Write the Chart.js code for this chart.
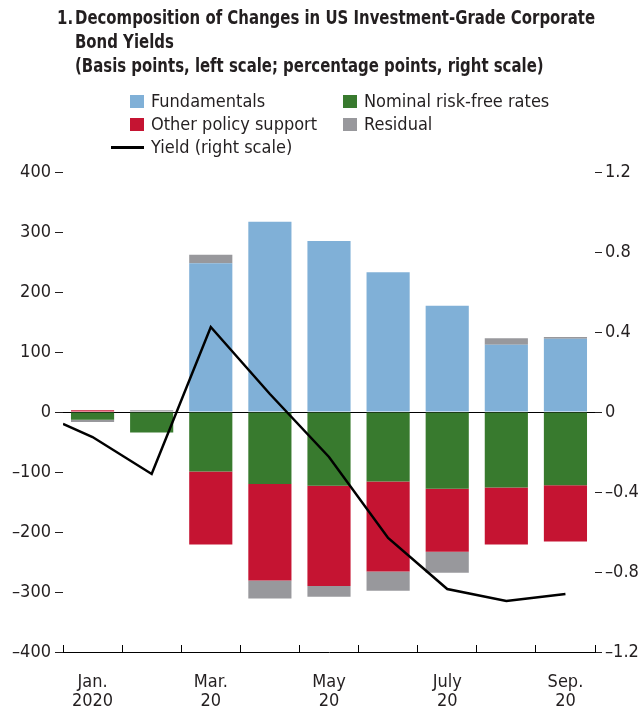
<!DOCTYPE html>
<html>
<head>
    <title>Decomposition of Changes in US IG Corporate Bond Yields</title>
    <script src="https://cdn.jsdelivr.net/npm/chart.js"></script>
    <style>
        body {
            margin: 0;
            background: #fff;
            font-family: "Liberation Sans Narrow", "DejaVu Sans Condensed", "Arial Narrow", sans-serif;
            color: #231f20;
        }
        .page {
            position: relative;
            width: 643px;
            height: 711px;
            overflow: hidden;
        }
        .title-num, .title {
            position: absolute;
            top: 5px;
            font-weight: bold;
            font-size: 19px;
            line-height: 24px;
            white-space: nowrap;
            transform-origin: 0 0;
        }
        .title-num { left: 57px; }
        .title { left: 75px; }
        .title span {
            display: inline-block;
        }
        .legend-item {
            position: absolute;
            font-size: 18px;
            line-height: 20px;
            white-space: nowrap;
        }
        .swatch {
            position: absolute;
            width: 14px;
            height: 13px;
        }
        .yield-key {
            position: absolute;
            left: 111px;
            width: 33px;
            height: 3px;
            background: #000;
        }
        #bondChart {
            position: absolute;
            left: 0;
            top: 0;
        }
    </style>
</head>
<body>
<div class="page">
    <canvas id="bondChart" width="643" height="711"></canvas>

    <div class="title-num" id="titleNum">1.</div>
    <div class="title" id="title">
        <span id="titleLine1">Decomposition of Changes in US Investment-Grade Corporate</span><br>
        <span>Bond Yields</span><br>
        <span>(Basis points, left scale; percentage points, right scale)</span>
    </div>

    <!-- legend, two columns like the original -->
    <div class="swatch" style="left:130px; top:95px; background:#80b0d7;"></div>
    <div class="legend-item" style="left:151px; top:91px;">Fundamentals</div>
    <div class="swatch" style="left:343px; top:95px; background:#387a2e;"></div>
    <div class="legend-item" style="left:364px; top:91px;">Nominal risk-free rates</div>
    <div class="swatch" style="left:130px; top:118px; background:#c51432;"></div>
    <div class="legend-item" style="left:151px; top:114px;">Other policy support</div>
    <div class="swatch" style="left:343px; top:118px; background:#98989c;"></div>
    <div class="legend-item" style="left:364px; top:114px;">Residual</div>
    <div class="yield-key" style="top:146px;"></div>
    <div class="legend-item" style="left:151px; top:137px;">Yield (right scale)</div>
</div>

<script>
    const months = [['Jan.', '2020'], '', ['Mar.', '20'], '', ['May', '20'], '', ['July', '20'], '', ['Sep.', '20']];

    // basis points
    const fundamentals = [0, 0, 248, 317, 285, 233, 177, 112, 122];
    const nominalRates = [-13, -34, -99, -120, -123, -116, -128, -126, -122];
    const otherPolicy = [3, 0, -122, -161, -167, -150, -105, -95, -94];
    const residual = [-3.5, 3, 14, -30, -18, -32, -35, 11, 3];

    // yield, percentage points; first point sits at the start of January
    const yieldPos = [-0.5, 0, 1, 2, 3, 4, 5, 6, 7, 8];
    const yieldValues = [-0.06, -0.125, -0.31, 0.425, 0.09, -0.225, -0.63, -0.885, -0.945, -0.91];

    const leftTicks = { min: -400, max: 400, step: 100 };
    const rightTicks = { min: -1.2, max: 1.2, step: 0.4 };

    // condensed title: squeeze the bold face to the width of the original
    const w = document.getElementById('titleLine1').getBoundingClientRect().width;
    const squeeze = 'scaleX(' + (520 / w) + ')';
    document.getElementById('title').style.transform = squeeze;
    document.getElementById('titleNum').style.transform = squeeze;

    const tickFont = { family: '"Liberation Sans Narrow", "DejaVu Sans Condensed", sans-serif', size: 18, lineHeight: 1.05 };
    const ink = '#231f20';

    function dash(v) {
        return v < 0 ? '\u2013' : '';
    }

    const ctx = document.getElementById('bondChart').getContext('2d');
    new Chart(ctx, {
        type: 'bar',
        data: {
            labels: months,
            datasets: [
                { label: 'Fundamentals', data: fundamentals, backgroundColor: '#80b0d7', order: 1 },
                { label: 'Nominal risk-free rates', data: nominalRates, backgroundColor: '#387a2e', order: 1 },
                { label: 'Other policy support', data: otherPolicy, backgroundColor: '#c51432', order: 1 },
                { label: 'Residual', data: residual, backgroundColor: '#98989c', order: 1 },
                {
                    type: 'line',
                    label: 'Yield (right scale)',
                    data: yieldPos.map((x, i) => ({ x: x, y: yieldValues[i] })),
                    xAxisID: 'x2',
                    yAxisID: 'y2',
                    borderColor: '#000',
                    borderWidth: 2.5,
                    pointRadius: 0,
                    tension: 0,
                    order: 0
                }
            ]
        },
        options: {
            responsive: false,
            animation: false,
            devicePixelRatio: 1,
            layout: { padding: { top: 172, left: 0, right: 0, bottom: 0 } },
            datasets: {
                bar: { barPercentage: 0.73, categoryPercentage: 1, borderWidth: 0, grouped: false }
            },
            scales: {
                x: {
                    stacked: true,
                    afterFit: s => { s.height = 59; },
                    border: { display: true, color: '#000', width: 1 },
                    grid: { drawOnChartArea: false, tickLength: -7, color: '#000', offset: true },
                    ticks: { font: tickFont, color: ink, maxRotation: 0, autoSkip: false, padding: 28 }
                },
                x2: {
                    type: 'linear',
                    display: false,
                    offset: false,
                    grid: { offset: false },
                    min: -0.5,
                    max: 8.5
                },
                y: {
                    stacked: true,
                    position: 'left',
                    min: leftTicks.min,
                    max: leftTicks.max,
                    afterFit: s => { s.width = 63; },
                    border: { display: false },
                    grid: {
                        color: c => (c.tick && c.tick.value === 0 ? '#000' : 'rgba(0,0,0,0)'),
                        tickColor: ink,
                        tickLength: 8,
                        lineWidth: 1
                    },
                    ticks: {
                        stepSize: leftTicks.step,
                        font: tickFont,
                        color: ink,
                        padding: 4,
                        callback: v => dash(v) + Math.abs(v)
                    }
                },
                y2: {
                    position: 'right',
                    min: rightTicks.min,
                    max: rightTicks.max,
                    afterFit: s => { s.width = 48; },
                    border: { display: false },
                    grid: { drawOnChartArea: false, tickColor: ink, tickLength: 7 },
                    ticks: {
                        stepSize: rightTicks.step,
                        font: tickFont,
                        color: ink,
                        padding: 3,
                        callback: v => Math.abs(v) < 1e-9 ? '0' : dash(v) + Math.abs(v).toFixed(1)
                    }
                }
            },
            plugins: {
                legend: { display: false },
                tooltip: { enabled: false }
            }
        }
    });
</script>
</body>
</html>
